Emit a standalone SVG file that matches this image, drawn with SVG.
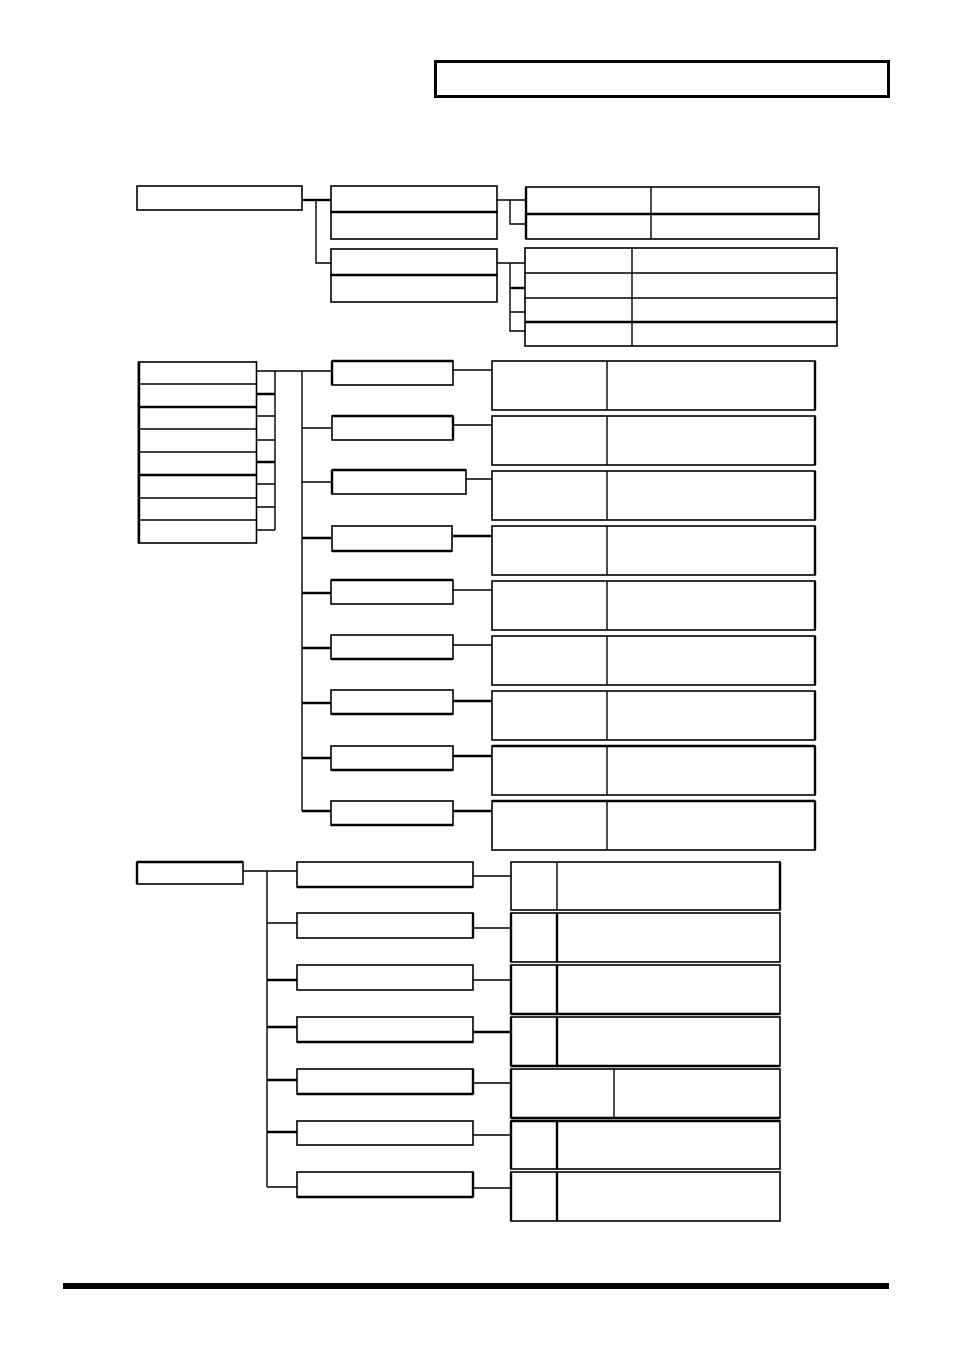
<svg xmlns="http://www.w3.org/2000/svg" width="954" height="1351" viewBox="0 0 954 1351">
<style>
rect{fill:#fff;stroke:#000;stroke-width:1.6}
.thick{stroke-width:2.6}
line,path{stroke:#000;stroke-width:1.4;fill:none}
.tl{stroke-width:2.4}
</style>
<rect x="0" y="0" width="954" height="1351" style="stroke:none"/>
<g id="header"><rect x="435.5" y="61.5" width="453" height="35" style="stroke-width:3"/></g>

<g id="connectors">
<!-- section 1 -->
<path class="tl" d="M302 200 H331"/>
<path d="M316 200 V263 H331"/>
<path d="M497 200 H526 M510 200 V224 H526"/>
<path d="M497 263 H525 M510 263 V331 H525 M510 312 H525"/>
<path class="tl" d="M510 288 H525"/>
<!-- section 2 -->
<path d="M257 371 H331 M275 371 V530 M257 416 H275 M257 440 H275 M257 484 H275 M257 507 H275 M257 530 H275"/>
<path class="tl" d="M257 394 H275 M257 462 H275"/>
<path d="M302 371 V811"/>
<path d="M302 428 H331 M302 482 H331"/>
<path class="tl" d="M302 538 H331 M302 593 H331 M302 648 H331 M302 703 H331 M302 758 H331 M302 811 H331"/>
<path d="M453 370 H492 M453 425 H492 M466 479 H492 M453 590 H492 M453 645 H492"/>
<path class="tl" d="M453 536 H492 M453 701 H492 M453 756 H492 M453 811 H492"/>
<!-- section 3 -->
<path d="M243 871 H297 M267 871 V1187 M267 923 H297 M267 1187 H297"/>
<path class="tl" d="M267 980 H297 M267 1027 H297 M267 1080 H297 M267 1132 H297"/>
<path d="M473 876 H511 M473 928 H511 M473 980 H511 M473 1083 H511 M473 1135 H511 M473 1188 H511"/>
<path class="tl" d="M473 1032 H511"/>
</g>

<!-- section 1 nodes -->
<g id="n1-root"><rect x="137" y="186" width="165" height="24"/></g>
<g id="n1-a"><rect x="331" y="186" width="166" height="26"/><rect x="331" y="212" width="166" height="27"/><line class="tl" x1="331" y1="212" x2="497" y2="212"/></g>
<g id="n1-b"><rect x="331" y="249" width="166" height="26"/><rect x="331" y="275" width="166" height="27"/><line class="tl" x1="331" y1="275" x2="497" y2="275"/></g>
<g id="t1-a"><rect x="526" y="187" width="293" height="52"/><line class="tl" x1="526" y1="214" x2="819" y2="214"/><line x1="651" y1="187" x2="651" y2="239"/><line class="tl" x1="526" y1="187" x2="526" y2="239"/></g>
<g id="t1-b"><rect x="525" y="248" width="312" height="98"/><line x1="525" y1="273" x2="837" y2="273"/><line x1="525" y1="298" x2="837" y2="298"/><line class="tl" x1="525" y1="322" x2="837" y2="322"/><line x1="632" y1="248" x2="632" y2="346"/></g>

<!-- section 2 nodes -->
<g id="n2-stack"><rect x="138.5" y="362" width="118" height="181"/>
<line x1="138" y1="384" x2="257" y2="384"/><line class="tl" x1="138" y1="407" x2="257" y2="407"/><line x1="138" y1="429" x2="257" y2="429"/><line x1="138" y1="452" x2="257" y2="452"/><line class="tl" x1="138" y1="475" x2="257" y2="475"/><line x1="138" y1="498" x2="257" y2="498"/><line x1="138" y1="520" x2="257" y2="520"/><line class="tl" x1="139" y1="362" x2="139" y2="543"/></g>
<g id="n2-m1"><rect x="332" y="361" width="121" height="24"/><line class="tl" x1="332" y1="361" x2="332" y2="385"/><line class="tl" x1="332" y1="361" x2="453" y2="361"/></g>
<g id="n2-m2"><rect x="332" y="416" width="121" height="24"/><line class="tl" x1="453" y1="416" x2="453" y2="440"/><line class="tl" x1="332" y1="416" x2="453" y2="416"/></g>
<g id="n2-m3"><rect x="332" y="470" width="134" height="24"/><line class="tl" x1="332" y1="470" x2="332" y2="494"/><line class="tl" x1="332" y1="470" x2="466" y2="470"/></g>
<g id="n2-m4"><rect x="332" y="526" width="120" height="25"/><line class="tl" x1="332" y1="551" x2="452" y2="551"/></g>
<g id="n2-m5"><rect x="331" y="580" width="122" height="24"/><line class="tl" x1="331" y1="580" x2="453" y2="580"/></g>
<g id="n2-m6"><rect x="331" y="635" width="122" height="24"/><line class="tl" x1="331" y1="659" x2="453" y2="659"/></g>
<g id="n2-m7"><rect x="331" y="690" width="122" height="24"/><line class="tl" x1="331" y1="714" x2="453" y2="714"/></g>
<g id="n2-m8"><rect x="331" y="746" width="122" height="24"/><line class="tl" x1="331" y1="770" x2="453" y2="770"/></g>
<g id="n2-m9"><rect x="331" y="801" width="122" height="24"/><line class="tl" x1="331" y1="825" x2="453" y2="825"/></g>

<g id="t2-1"><rect x="492" y="361" width="323" height="49"/><line x1="607" y1="361" x2="607" y2="410"/><line class="tl" x1="815" y1="361" x2="815" y2="410"/></g>
<g id="t2-2"><rect x="492" y="416" width="323" height="49"/><line x1="607" y1="416" x2="607" y2="465"/><line class="tl" x1="815" y1="416" x2="815" y2="465"/></g>
<g id="t2-3"><rect x="492" y="471" width="323" height="49"/><line x1="607" y1="471" x2="607" y2="520"/><line class="tl" x1="815" y1="471" x2="815" y2="520"/></g>
<g id="t2-4"><rect x="492" y="526" width="323" height="49"/><line x1="607" y1="526" x2="607" y2="575"/><line class="tl" x1="815" y1="526" x2="815" y2="575"/></g>
<g id="t2-5"><rect x="492" y="581" width="323" height="49"/><line x1="607" y1="581" x2="607" y2="630"/><line class="tl" x1="815" y1="581" x2="815" y2="630"/></g>
<g id="t2-6"><rect x="492" y="636" width="323" height="49"/><line x1="607" y1="636" x2="607" y2="685"/><line class="tl" x1="815" y1="636" x2="815" y2="685"/></g>
<g id="t2-7"><rect x="492" y="691" width="323" height="49"/><line x1="607" y1="691" x2="607" y2="740"/><line class="tl" x1="815" y1="691" x2="815" y2="740"/></g>
<g id="t2-8"><rect x="492" y="746" width="323" height="49"/><line x1="607" y1="746" x2="607" y2="795"/><line class="tl" x1="815" y1="746" x2="815" y2="795"/><line class="tl" x1="492" y1="746" x2="815" y2="746"/></g>
<g id="t2-9"><rect x="492" y="801" width="323" height="49"/><line x1="607" y1="801" x2="607" y2="850"/><line class="tl" x1="815" y1="801" x2="815" y2="850"/><line class="tl" x1="492" y1="801" x2="815" y2="801"/></g>

<!-- section 3 nodes -->
<g id="n3-root"><rect x="137" y="862" width="106" height="22"/><line class="tl" x1="137" y1="862" x2="243" y2="862"/><line class="tl" x1="137" y1="862" x2="137" y2="884"/></g>
<g id="n3-m1"><rect x="297" y="862" width="176" height="25"/><line class="tl" x1="297" y1="887" x2="473" y2="887"/></g>
<g id="n3-m2"><rect x="297" y="913" width="176" height="25"/><line class="tl" x1="473" y1="913" x2="473" y2="938"/></g>
<g id="n3-m3"><rect x="297" y="965" width="176" height="25"/></g>
<g id="n3-m4"><rect x="297" y="1017" width="176" height="25"/><line class="tl" x1="297" y1="1042" x2="473" y2="1042"/></g>
<g id="n3-m5"><rect x="297" y="1069" width="176" height="25"/><line class="tl" x1="297" y1="1094" x2="473" y2="1094"/><line class="tl" x1="473" y1="1069" x2="473" y2="1094"/></g>
<g id="n3-m6"><rect x="297" y="1121" width="176" height="24"/></g>
<g id="n3-m7"><rect x="297" y="1172" width="176" height="25"/><line class="tl" x1="473" y1="1172" x2="473" y2="1197"/><line class="tl" x1="297" y1="1197" x2="473" y2="1197"/></g>

<g id="t3-1"><rect x="511" y="862" width="269" height="48"/><line x1="557" y1="862" x2="557" y2="910"/><line class="tl" x1="780" y1="862" x2="780" y2="910"/></g>
<g id="t3-2"><rect x="511" y="913" width="269" height="49"/><line class="tl" x1="557" y1="913" x2="557" y2="962"/><line class="tl" x1="511" y1="913" x2="511" y2="962"/></g>
<g id="t3-3"><rect x="511" y="965" width="269" height="49"/><line class="tl" x1="557" y1="965" x2="557" y2="1014"/><line class="tl" x1="511" y1="965" x2="511" y2="1014"/><line class="tl" x1="511" y1="1014" x2="780" y2="1014"/></g>
<g id="t3-4"><rect x="511" y="1017" width="269" height="49"/><line class="tl" x1="557" y1="1017" x2="557" y2="1066"/><line class="tl" x1="511" y1="1017" x2="511" y2="1066"/><line class="tl" x1="511" y1="1066" x2="780" y2="1066"/></g>
<g id="t3-5"><rect x="511" y="1069" width="269" height="49"/><line x1="614" y1="1069" x2="614" y2="1118"/><line class="tl" x1="511" y1="1069" x2="511" y2="1118"/><line class="tl" x1="511" y1="1118" x2="780" y2="1118"/></g>
<g id="t3-6"><rect x="511" y="1121" width="269" height="48"/><line class="tl" x1="557" y1="1121" x2="557" y2="1169"/><line class="tl" x1="511" y1="1121" x2="511" y2="1169"/><line class="tl" x1="511" y1="1121" x2="780" y2="1121"/></g>
<g id="t3-7"><rect x="511" y="1172" width="269" height="49"/><line class="tl" x1="557" y1="1172" x2="557" y2="1221"/><line class="tl" x1="511" y1="1172" x2="511" y2="1221"/></g>

<g id="footer"><rect x="63" y="1283" width="826" height="6" style="fill:#000;stroke:none"/></g>
</svg>
